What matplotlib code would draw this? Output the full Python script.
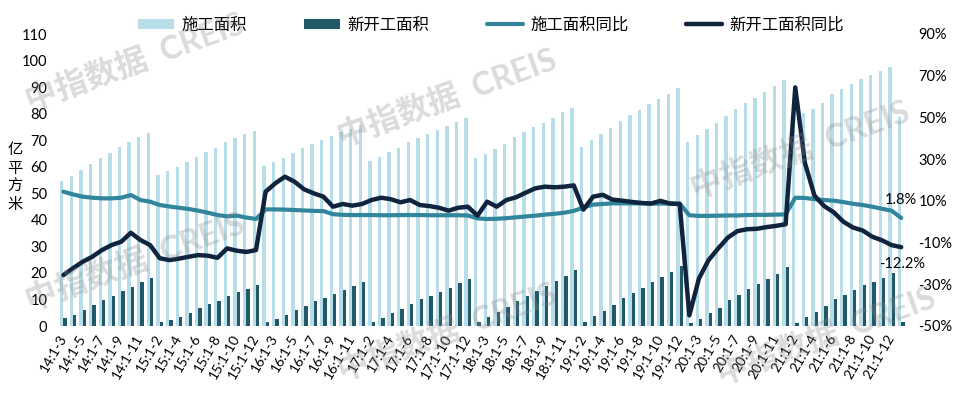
import numpy as np
import matplotlib
matplotlib.use("Agg")
import matplotlib.pyplot as plt
from matplotlib.patches import Patch
from matplotlib.lines import Line2D

plt.rcParams["font.family"] = ["Lato", "Noto Sans CJK SC", "DejaVu Sans"]

# =========================
# Data
# =========================
periods = [
    "14:1-3", "14:1-4", "14:1-5", "14:1-6", "14:1-7", "14:1-8", "14:1-9", "14:1-10", "14:1-11", "14:1-12",
    "15:1-2", "15:1-3", "15:1-4", "15:1-5", "15:1-6", "15:1-7", "15:1-8", "15:1-9", "15:1-10", "15:1-11", "15:1-12",
    "16:1-2", "16:1-3", "16:1-4", "16:1-5", "16:1-6", "16:1-7", "16:1-8", "16:1-9", "16:1-10", "16:1-11", "16:1-12",
    "17:1-2", "17:1-3", "17:1-4", "17:1-5", "17:1-6", "17:1-7", "17:1-8", "17:1-9", "17:1-10", "17:1-11", "17:1-12",
    "18:1-2", "18:1-3", "18:1-4", "18:1-5", "18:1-6", "18:1-7", "18:1-8", "18:1-9", "18:1-10", "18:1-11", "18:1-12",
    "19:1-2", "19:1-3", "19:1-4", "19:1-5", "19:1-6", "19:1-7", "19:1-8", "19:1-9", "19:1-10", "19:1-11", "19:1-12",
    "20:1-2", "20:1-3", "20:1-4", "20:1-5", "20:1-6", "20:1-7", "20:1-8", "20:1-9", "20:1-10", "20:1-11", "20:1-12",
    "21:1-2", "21:1-3", "21:1-4", "21:1-5", "21:1-6", "21:1-7", "21:1-8", "21:1-9", "21:1-10", "21:1-11", "21:1-12",
    "22:1-2",
]

# 施工面积 (亿平方米)
construction_area = [
    54.6, 56.5, 58.8, 61.0, 63.4, 65.2, 67.4, 69.2, 71.2, 72.7,
    56.9, 58.4, 60.0, 61.8, 63.8, 65.4, 67.2, 69.3, 70.9, 72.3, 73.6,
    60.3, 61.9, 63.3, 65.2, 66.9, 68.4, 70.1, 71.6, 73.1, 74.4, 75.9,
    62.1, 63.6, 65.5, 67.0, 69.3, 70.8, 72.2, 73.8, 75.3, 76.8, 78.2,
    63.3, 64.8, 66.5, 68.4, 71.3, 72.9, 74.8, 76.6, 78.2, 80.6, 82.0,
    67.4, 70.1, 72.2, 74.5, 77.2, 79.5, 81.4, 83.5, 85.4, 87.4, 89.5,
    69.2, 71.8, 74.1, 76.5, 79.2, 81.7, 83.9, 85.8, 88.1, 90.4, 92.7,
    77.6, 80.1, 81.7, 84.1, 87.4, 89.3, 91.1, 92.9, 94.5, 96.0, 97.6,
    78.6,
]

# 新开工面积 (亿平方米)
new_start_area = [
    3.0, 4.2, 6.0, 7.9, 9.8, 11.3, 13.2, 14.7, 16.4, 18.0,
    1.4, 2.3, 3.5, 5.0, 6.9, 8.2, 9.5, 11.4, 12.7, 13.9, 15.4,
    1.4, 2.6, 4.1, 6.0, 7.5, 9.3, 10.7, 12.1, 13.6, 15.1, 16.6,
    1.4, 2.9, 4.8, 6.3, 8.3, 10.0, 11.3, 12.9, 14.3, 16.1, 17.8,
    1.6, 3.4, 5.3, 7.3, 9.5, 11.3, 13.2, 15.1, 17.1, 18.8, 21.1,
    1.6, 3.8, 5.6, 7.9, 10.7, 12.3, 14.3, 16.6, 18.5, 20.4, 22.6,
    1.0, 2.6, 4.8, 6.9, 9.8, 11.8, 13.9, 15.7, 17.8, 19.7, 22.3,
    1.3, 3.3, 5.3, 7.5, 10.1, 11.7, 13.6, 15.4, 16.6, 18.1, 19.9,
    1.5,
]

# 施工面积同比 (%)
construction_yoy = [
    14.4, 13.1, 12.0, 11.5, 11.2, 11.2, 11.5, 12.8, 10.4, 9.6,
    8.0, 7.3, 6.7, 6.1, 5.3, 4.3, 3.2, 2.6, 2.9, 2.0, 1.3,
    5.9, 5.9, 5.8, 5.6, 5.4, 5.2, 5.1, 3.6, 3.3, 3.2, 3.2,
    3.2, 3.1, 3.1, 3.2, 3.2, 3.2, 3.1, 3.1, 3.1, 3.1, 3.0,
    1.6, 1.3, 1.4, 1.7, 2.1, 2.5, 2.9, 3.4, 3.8, 4.3, 5.2,
    6.8, 8.2, 8.5, 8.8, 8.8, 8.8, 8.8, 8.7, 8.7, 8.7, 8.7,
    3.1, 2.8, 2.8, 2.9, 3.0, 3.0, 3.2, 3.3, 3.3, 3.4, 3.5,
    11.5, 11.4, 10.8, 10.4, 10.1, 9.4, 8.6, 8.0, 7.2, 6.2, 5.3,
    1.8,
]

# 新开工面积同比 (%)
new_start_yoy = [
    -25.6, -22.3, -19.2, -16.8, -13.6, -11.2, -9.6, -5.3, -8.8, -11.2,
    -17.5, -18.4, -17.7, -16.8, -16.0, -16.3, -17.3, -12.8, -13.9, -14.5, -13.6,
    14.4, 18.4, 21.6, 19.2, 15.5, 13.6, 12.0, 7.2, 8.5, 7.7, 8.5,
    10.4, 11.5, 10.8, 9.3, 10.4, 8.0, 7.5, 6.7, 5.3, 6.7, 7.2,
    2.9, 9.6, 7.2, 10.4, 11.7, 13.9, 16.0, 16.8, 16.5, 16.8, 17.4,
    5.8, 12.0, 12.9, 10.6, 10.1, 9.5, 9.0, 8.7, 10.0, 8.7, 8.5,
    -44.9, -27.2, -18.4, -12.8, -7.6, -4.5, -3.6, -3.4, -2.6, -2.0, -1.2,
    64.4, 28.2, 12.5, 7.5, 4.5, 0.0, -2.8, -4.2, -7.2, -8.9, -11.2,
    -12.2,
]

left_ticks = list(range(0, 111, 10))
right_ticks = list(range(-50, 91, 20))

c_light = "#b7dee8"
c_dark = "#215968"
c_teal = "#31859c"
c_navy = "#10243e"

W, H = 961, 396

# =========================
# Figure
# =========================
fig = plt.figure(figsize=(W / 100, H / 100), dpi=100)
ax = fig.add_axes([58.6 / W, 1 - 326 / H, (906 - 58.6) / W, (326 - 34) / H])

x = np.arange(len(periods))
ax.bar(x - 0.175, construction_area, width=0.35, color=c_light, zorder=1)
ax.bar(x + 0.175, new_start_area, width=0.35, color=c_dark, zorder=1)

ax.set_xlim(-0.5, len(periods) - 0.5)
ax.set_ylim(0, 110)
ax.set_yticks(left_ticks)
ax.set_yticklabels([str(v) for v in left_ticks], fontsize=10.5)
ax.set_xticks(x[::2])
ax.set_xticklabels(periods[::2], rotation=60, ha="right", va="center",
                   rotation_mode="anchor", fontsize=10)
ax.tick_params(axis="both", length=0)
ax.tick_params(axis="y", pad=8)
ax.tick_params(axis="x", pad=7)
for s in ax.spines.values():
    s.set_visible(False)

ax2 = ax.twinx()
ax2.plot(x, construction_yoy, color=c_teal, lw=3, solid_joinstyle="round",
         solid_capstyle="round", zorder=3)
ax2.plot(x, new_start_yoy, color=c_navy, lw=3.2, solid_joinstyle="round",
         solid_capstyle="round", zorder=4)
ax2.set_ylim(-50, 90)
ax2.set_yticks(right_ticks)
ax2.set_yticklabels([f"{v}%" for v in right_ticks], fontsize=10.5)
ax2.tick_params(axis="y", length=0, pad=9)
for s in ax2.spines.values():
    s.set_visible(False)

ax2.annotate(f"{construction_yoy[-1]}%", (x[-1], construction_yoy[-1]),
             xytext=(0, 13), textcoords="offset points", ha="center",
             va="center", fontsize=10.5)
ax2.annotate(f"{new_start_yoy[-1]}%", (x[-1], new_start_yoy[-1]),
             xytext=(1, -12), textcoords="offset points", ha="center",
             va="center", fontsize=10.5)

# y-axis unit, one character per line
for i, ch in enumerate("亿平方米"):
    fig.text(15 / W, 1 - (150 + i * 18.5) / H, ch, ha="center", va="center",
             fontsize=11)

# legend
handles = [
    Patch(facecolor=c_light, edgecolor="none"),
    Patch(facecolor=c_dark, edgecolor="none"),
    Line2D([], [], color=c_teal, lw=3, solid_capstyle="round"),
    Line2D([], [], color=c_navy, lw=3.2, solid_capstyle="round"),
]
fig.legend(handles, ["施工面积", "新开工面积", "施工面积同比", "新开工面积同比"],
           loc="center", bbox_to_anchor=(491 / W, 1 - 25 / H), ncol=4,
           frameon=False, fontsize=11.8, handlelength=2.2, handleheight=0.6,
           columnspacing=3.5, handletextpad=0.45)

# watermarks
marks = [(135, 62), (447, 98), (800, 150), (135, 262), (447, 332), (826, 336)]
for mx, my in marks:
    fig.text(mx / W, 1 - my / H, "中指数据  CREIS", ha="center", va="center",
             rotation=20, fontsize=23, fontweight="bold", color="#888888",
             alpha=0.3, zorder=10)

fig.savefig("out.png", dpi=100)
